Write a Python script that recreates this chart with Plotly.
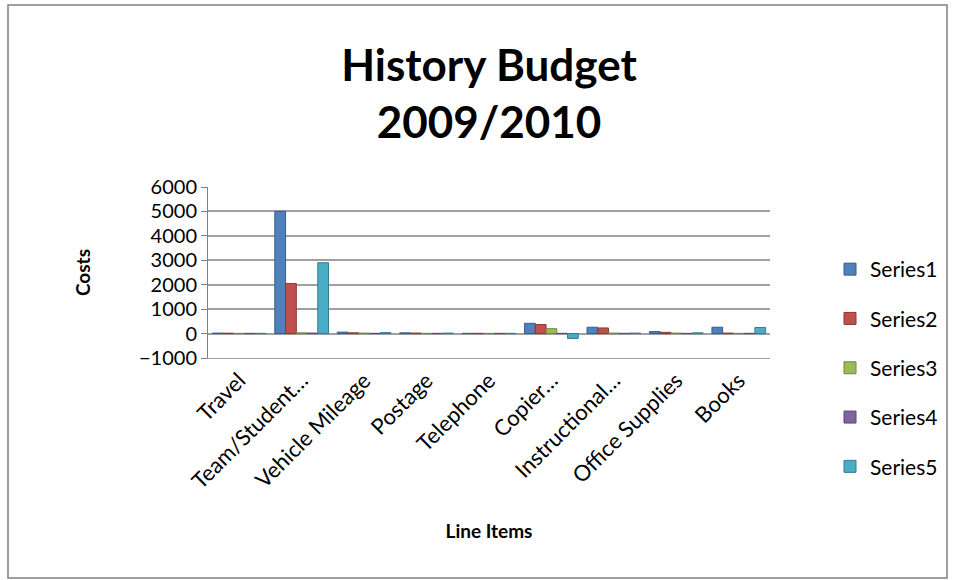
import plotly.graph_objects as go

categories = ["Travel", "Team/Student…", "Vehicle Mileage", "Postage", "Telephone",
              "Copier…", "Instructional…", "Office Supplies", "Books"]
series_names = ["Series1", "Series2", "Series3", "Series4", "Series5"]
series1 = [20, 5000, 60, 30, 10, 420, 260, 80, 260]
series2 = [15, 2050, 30, 20, 10, 370, 230, 50, 20]
series3 = [10, 30, 20, 10, 10, 200, 20, 20, 10]
series4 = [10, 20, 10, 10, 10, 10, 10, 10, 10]
series5 = [10, 2900, 40, 20, 10, -200, 20, 30, 250]
colors = ["#4F81BD", "#C0504D", "#9BBB59", "#8064A2", "#4BACC6"]
outlines = ["#385D8A", "#8C3836", "#71893F", "#5C4776", "#357D91"]
y_ticks = [-1000, 0, 1000, 2000, 3000, 4000, 5000, 6000]

W, H = 955, 580
L, R, T, B = 208, 185, 187, 222
font = "Lato, Open Sans, sans-serif"

fig = go.Figure()
for name, vals, c, oc in zip(series_names, [series1, series2, series3, series4, series5], colors, outlines):
    fig.add_trace(go.Bar(x=categories, y=vals, name=name, legendgroup=name,
                         marker=dict(color=c, line=dict(color=oc, width=1))))

pw, ph = W - L - R, H - T - B
def px(x): return (x - L) / pw
def py(y): return (H - B - y) / ph

fig.update_layout(
    width=W, height=H,
    margin=dict(l=L, r=R, t=T, b=B),
    paper_bgcolor="white", plot_bgcolor="white",
    font=dict(family=font, size=19, color="black"),
    title=dict(text="<b>History Budget<br>2009/2010</b>", x=0.5, xanchor="center",
               xref="paper", y=1 - 81 / H, yanchor="top",
               font=dict(size=44, family=font, color="black")),
    barmode="group", bargap=0.14, bargroupgap=0.0,
    showlegend=True,
    legend=dict(x=px(830), y=py(249), xanchor="left", yanchor="top",
                font=dict(size=21, family=font), tracegroupgap=19,
                itemwidth=30, bgcolor="rgba(0,0,0,0)", maxheight=400),
    xaxis=dict(tickangle=-45, showgrid=False, showline=True, linecolor="#A0A0A0",
               ticks="", tickfont=dict(size=22),
               title=dict(text="<b>Line Items</b>", font=dict(size=19), standoff=31)),
    yaxis=dict(range=[-1000, 6000], tickvals=y_ticks, showgrid=True, gridcolor="#A0A0A0",
               gridwidth=2, zeroline=False, showline=True, linecolor="#808080",
               ticks="outside", ticklen=6, tickcolor="#808080", tickfont=dict(size=20),
               title=dict(text="<b>Costs</b>", font=dict(size=19), standoff=43)),
)
fig.add_shape(type="rect", xref="paper", yref="paper",
              x0=px(8), x1=px(947), y0=py(578), y1=py(5),
              line=dict(color="#808080", width=1.5), fillcolor="rgba(0,0,0,0)", layer="below")
fig.write_html("out.html")
